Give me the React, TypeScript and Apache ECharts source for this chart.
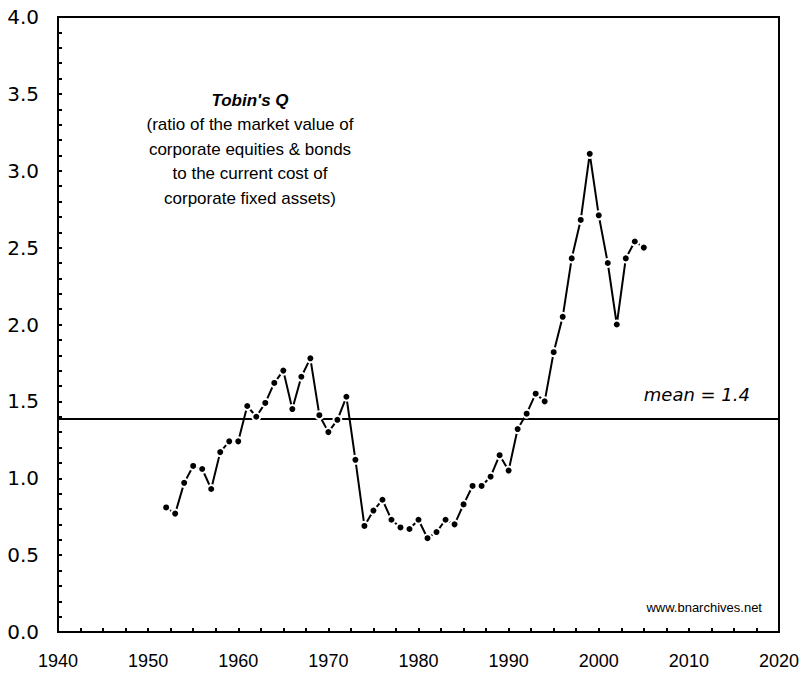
import React, { useEffect, useRef } from "react";
import * as echarts from "echarts";

const years: number[] = [
  1952, 1953, 1954, 1955, 1956, 1957, 1958, 1959, 1960, 1961,
  1962, 1963, 1964, 1965, 1966, 1967, 1968, 1969, 1970, 1971,
  1972, 1973, 1974, 1975, 1976, 1977, 1978, 1979, 1980, 1981,
  1982, 1983, 1984, 1985, 1986, 1987, 1988, 1989, 1990, 1991,
  1992, 1993, 1994, 1995, 1996, 1997, 1998, 1999, 2000, 2001,
  2002, 2003, 2004, 2005,
];
const tobinsQ: number[] = [
  0.81, 0.77, 0.97, 1.08, 1.06, 0.93, 1.17, 1.24, 1.24, 1.47,
  1.40, 1.49, 1.62, 1.70, 1.45, 1.66, 1.78, 1.41, 1.30, 1.38,
  1.53, 1.12, 0.69, 0.79, 0.86, 0.73, 0.68, 0.67, 0.73, 0.61,
  0.65, 0.73, 0.70, 0.83, 0.95, 0.95, 1.01, 1.15, 1.05, 1.32,
  1.42, 1.55, 1.50, 1.82, 2.05, 2.43, 2.68, 3.11, 2.71, 2.40,
  2.00, 2.43, 2.54, 2.50,
];
const meanValue = 1.39;
const titleLines: string[] = [
  "(ratio of the market value of",
  "corporate equities & bonds",
  "to the current cost of",
  "corporate fixed assets)",
];

export default function App() {
  const ref = useRef<HTMLDivElement>(null);
  useEffect(() => {
    if (!ref.current) return;
    const chart = echarts.init(ref.current, null, { renderer: "svg" });
    const font = "'Liberation Sans', Arial, sans-serif";
    const wideFont = "'DejaVu Sans', 'Liberation Sans', sans-serif";
    chart.setOption({
      animation: false,
      backgroundColor: "#fff",
      grid: {
        left: 58,
        right: 22,
        top: 17,
        bottom: 45,
        outerBoundsMode: "none",
        containLabel: false,
        show: true,
        borderColor: "#000",
        borderWidth: 2,
      },
      xAxis: {
        type: "value",
        min: 1940,
        max: 2020,
        interval: 10,
        splitLine: { show: false },
        axisLine: { lineStyle: { color: "#000", width: 2 } },
        axisTick: { inside: true, length: 4, lineStyle: { color: "#000", width: 2 } },
        minorTick: { show: true, splitNumber: 4, length: 4, lineStyle: { color: "#000", width: 2 } },
        axisLabel: {
          color: "#000",
          fontFamily: font,
          fontSize: 18,
          margin: 20,
          formatter: (v: number) => String(v),
        },
      },
      yAxis: {
        type: "value",
        min: 0,
        max: 4,
        interval: 0.5,
        splitLine: { show: false },
        axisLine: { lineStyle: { color: "#000", width: 2 } },
        axisTick: { inside: true, length: 4, lineStyle: { color: "#000", width: 2 } },
        minorTick: { show: true, splitNumber: 5, length: 4, lineStyle: { color: "#000", width: 2 } },
        axisLabel: {
          color: "#000",
          fontFamily: wideFont,
          fontSize: 20,
          margin: 19,
          formatter: (v: number) => v.toFixed(1),
        },
      },
      series: [
        {
          type: "line",
          data: years.map((y, i) => [y, tobinsQ[i]]),
          symbol: "circle",
          symbolSize: 8,
          lineStyle: { color: "#000", width: 2 },
          itemStyle: { color: "#000", borderColor: "#fff", borderWidth: 2 },
          z: 3,
          markLine: {
            silent: true,
            symbol: ["none", "none"],
            label: { show: false },
            lineStyle: { color: "#000", width: 2, type: "solid" },
            data: [{ yAxis: meanValue }],
            z: 2,
          },
        },
      ],
      graphic: [
        {
          type: "text",
          x: 250,
          y: 92,
          style: {
            text: "Tobin's Q",
            fontFamily: font,
            fontSize: 17,
            fontWeight: "bold",
            fontStyle: "italic",
            fill: "#000",
            textAlign: "center",
          },
        },
        ...titleLines.map((t, i) => ({
          type: "text",
          x: 250,
          y: 116 + i * 24.5,
          style: {
            text: t,
            fontFamily: font,
            fontSize: 17,
            fill: "#000",
            textAlign: "center",
          },
        })),
        {
          type: "text",
          x: 750,
          y: 385,
          style: {
            text: "mean = 1.4",
            fontFamily: wideFont,
            fontSize: 18,
            fontStyle: "italic",
            fill: "#000",
            textAlign: "right",
          },
        },
        {
          type: "text",
          x: 762,
          y: 601,
          style: {
            text: "www.bnarchives.net",
            fontFamily: font,
            fontSize: 13,
            fill: "#000",
            textAlign: "right",
          },
        },
      ],
    });
    return () => chart.dispose();
  }, []);
  return (
    <div
      ref={ref}
      style={{ position: "absolute", left: 0, top: 0, width: 801, height: 677 }}
    />
  );
}
